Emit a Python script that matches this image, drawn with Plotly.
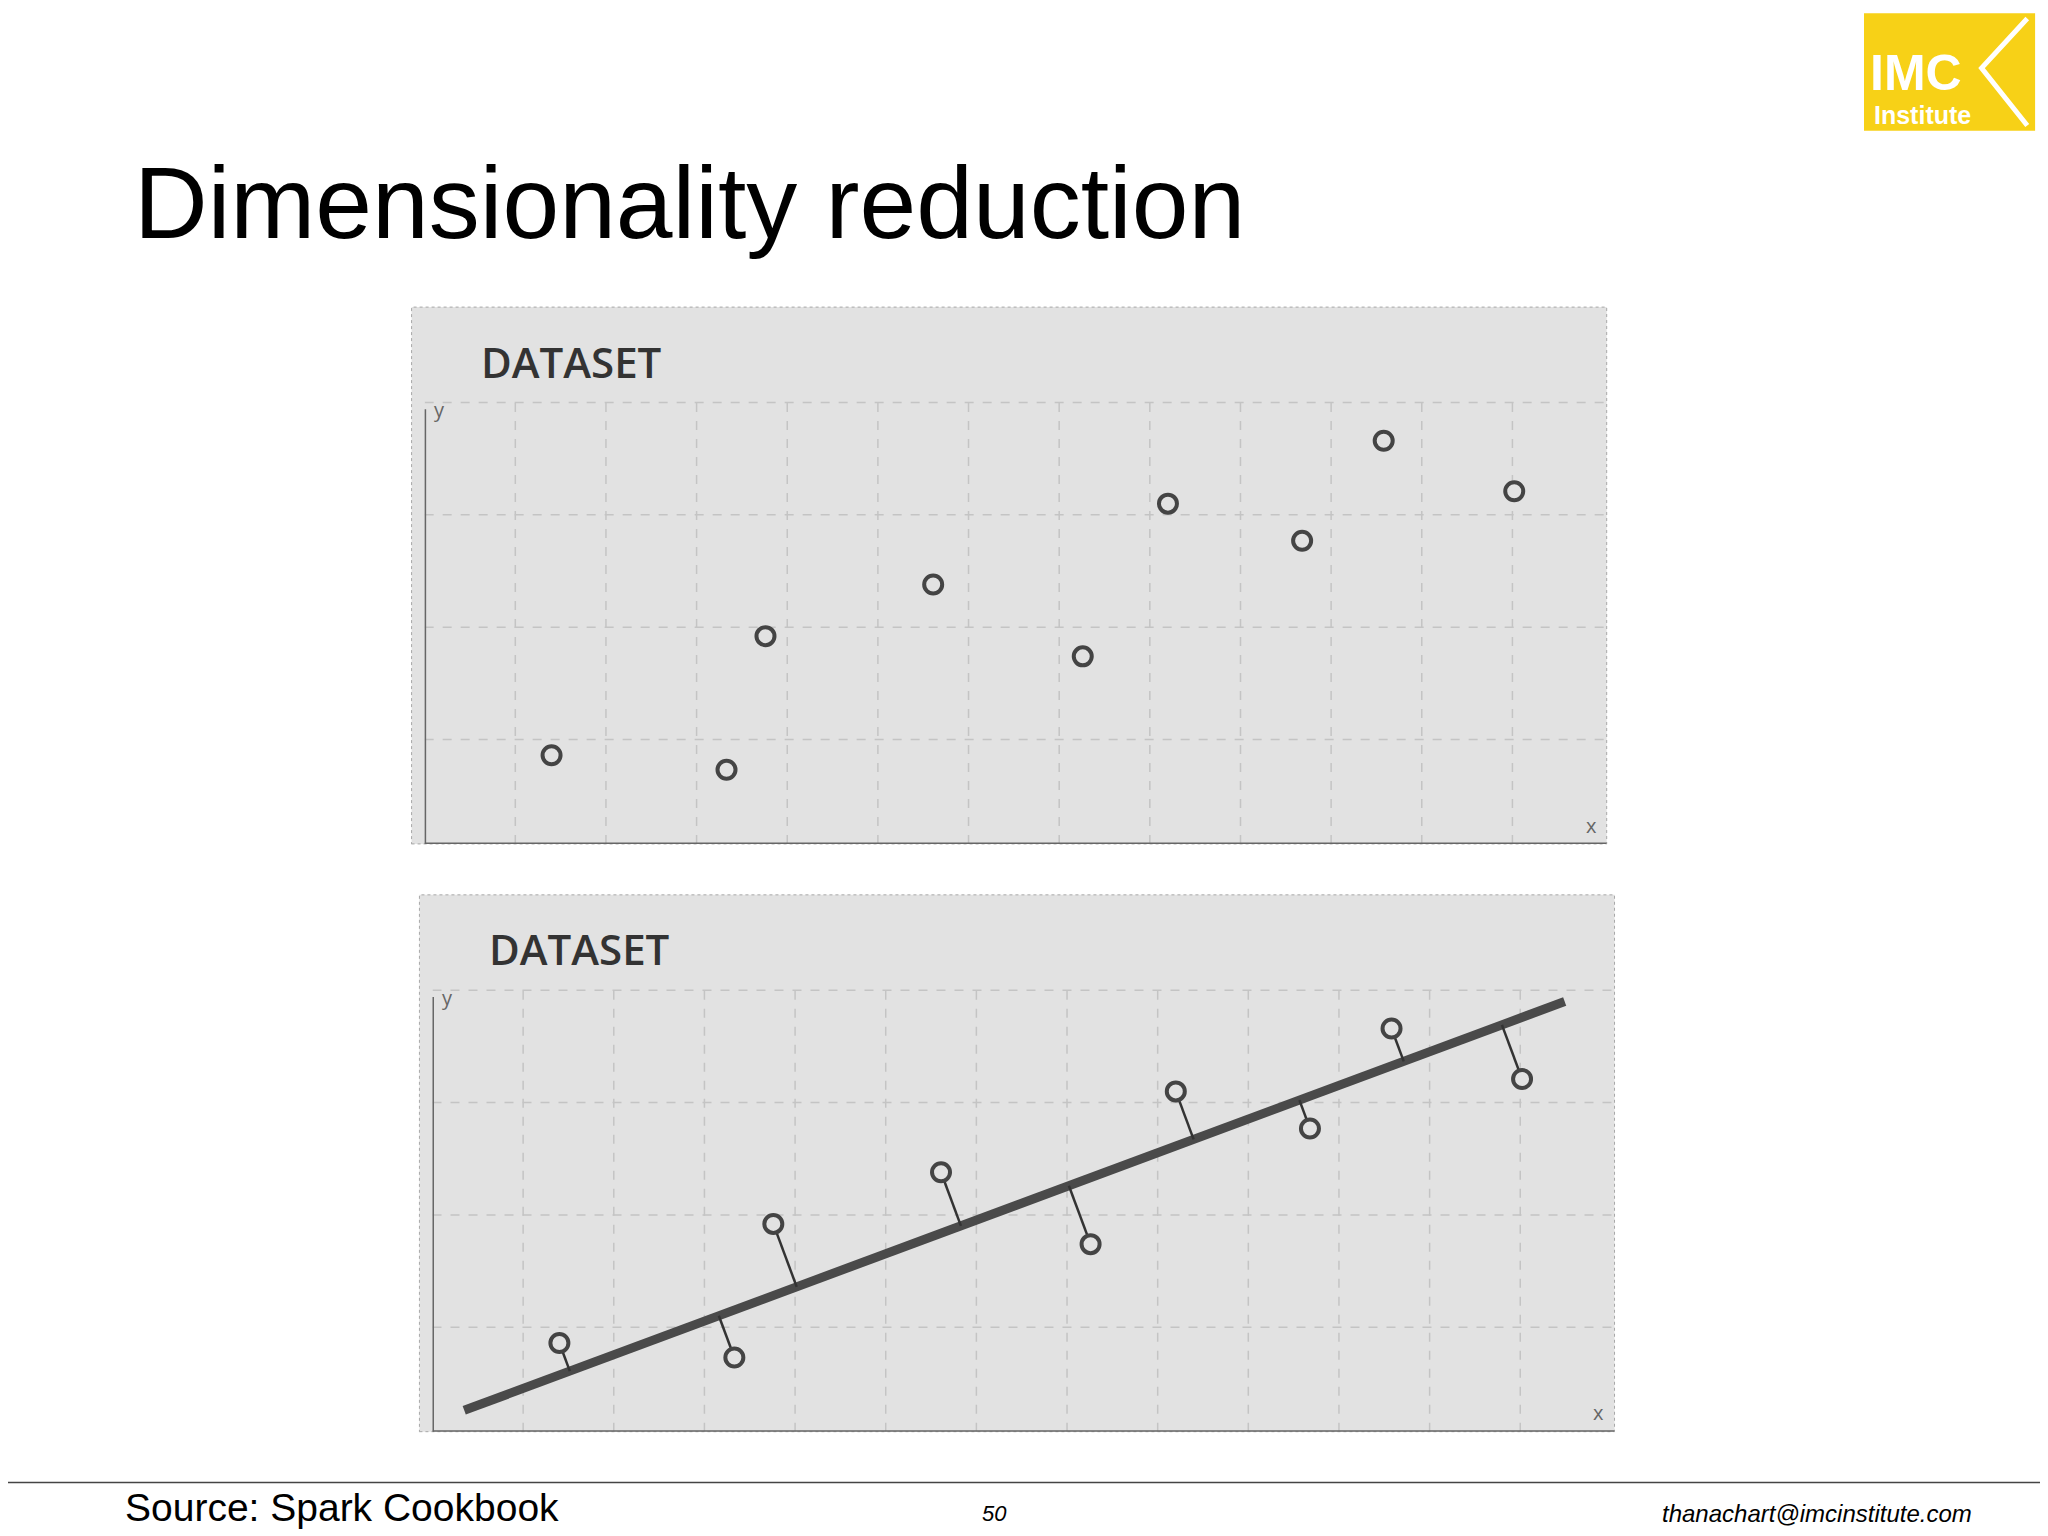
import numpy as np
import plotly.graph_objects as go

# data points in grid units
px = [1.40, 3.33, 3.76, 5.61, 7.26, 8.20, 9.68, 10.58, 12.02]
py = [0.79, 0.66, 1.85, 2.31, 1.67, 3.03, 2.70, 3.59, 3.14]
line_x = [0.35, 12.49]
line_y = [0.19, 3.83]
grid_x = list(range(1, 13))
grid_y = [0.93, 1.93, 2.93, 3.93]

W, H = 2048, 1536
XR = [0, 13.04]
YR = [0, 4.78]
sx, sy = 69.4, 86.0  # pixel scale per unit (reference px)
OFF = 6  # page margin compensation (reference px)


def fx(v):
    return (v - OFF) / 1568


def fy(v):
    return 1 - (v - OFF) / 1176


fig = go.Figure()
panels = [("x", "y", [325, 1230], [235, 646]), ("x2", "y2", [331, 1236], [685, 1096])]
axes = {}
shapes = []
ann = []
for i, (xa, ya, (x0, x1), (y0, y1)) in enumerate(panels):
    xd = [fx(x0), fx(x1)]
    yd = [fy(y1), fy(y0)]
    kx = "xaxis" if i == 0 else "xaxis2"
    ky = "yaxis" if i == 0 else "yaxis2"
    axes[kx] = dict(domain=xd, range=XR, visible=False, anchor=ya)
    axes[ky] = dict(domain=yd, range=YR, visible=False, anchor=xa)
    shapes.append(dict(type="rect", xref="paper", yref="paper", layer="below",
                       x0=fx(x0 - 10), x1=xd[1], y0=yd[0], y1=yd[1],
                       fillcolor="#e2e2e2", line=dict(color="#a8a8a8", width=1, dash="dot")))
    for g in grid_x:
        shapes.append(dict(type="line", xref=xa, yref=ya, layer="below", x0=g, x1=g, y0=0, y1=grid_y[-1],
                           line=dict(color="#c4c4c4", width=1.5, dash="dash")))
    for g in grid_y:
        shapes.append(dict(type="line", xref=xa, yref=ya, layer="below", x0=0, x1=XR[1], y0=g, y1=g,
                           line=dict(color="#c4c4c4", width=1.5, dash="dash")))
    shapes.append(dict(type="line", xref=xa, yref=ya, x0=0, x1=0, y0=0, y1=3.87,
                       line=dict(color="#666666", width=3)))
    shapes.append(dict(type="line", xref=xa, yref=ya, x0=0, x1=XR[1], y0=0, y1=0,
                       line=dict(color="#666666", width=3)))
    ann.append(dict(xref=xa, yref=ya, x=0.08, y=3.87, text="y", showarrow=False,
                    xanchor="left", yanchor="middle", font=dict(size=20, color="#666", family="Open Sans")))
    ann.append(dict(xref=xa, yref=ya, x=12.95, y=0.03, text="x", showarrow=False,
                    xanchor="right", yanchor="bottom", font=dict(size=20, color="#666", family="Open Sans")))
    ann.append(dict(xref=xa, yref=ya, x=0.6, y=4.3, text="DATASET", showarrow=False,
                    xanchor="left", yanchor="middle",
                    font=dict(size=42, color="#333", family="Open Sans", weight=600)))

fig.add_trace(go.Scatter(x=line_x, y=line_y, xaxis="x2", yaxis="y2", mode="lines",
                         line=dict(color="#4a4a4a", width=9), hoverinfo="skip"))
# perpendicular feet in pixel space
p0 = np.array([line_x[0] * sx, line_y[0] * sy])
d = np.array([(line_x[1] - line_x[0]) * sx, (line_y[1] - line_y[0]) * sy])
d = d / np.linalg.norm(d)
for a, b in zip(px, py):
    p = np.array([a * sx, b * sy])
    f = p0 + np.dot(p - p0, d) * d
    fig.add_trace(go.Scatter(x=[a, f[0] / sx], y=[b, f[1] / sy], xaxis="x2", yaxis="y2",
                             mode="lines", line=dict(color="#333", width=2.5), hoverinfo="skip"))

for xa, ya in [("x", "y"), ("x2", "y2")]:
    fig.add_trace(go.Scatter(x=px, y=py, xaxis=xa, yaxis=ya, mode="markers",
                             marker=dict(symbol="circle", size=18, color="#e2e2e2",
                                         line=dict(color="#444", width=4))))

shapes.append(dict(type="line", xref="paper", yref="paper", x0=-0.01, x1=1, y0=fy(1135), y1=fy(1135),
                   line=dict(color="#444", width=1.5)))
# logo
shapes.append(dict(type="rect", xref="paper", yref="paper", x0=fx(1427), x1=fx(1558),
                   y0=fy(100), y1=fy(10), fillcolor="#f7d117", line=dict(width=0)))
shapes.append(dict(type="path", xref="paper", yref="paper",
                   path="M %f %f L %f %f L %f %f" % (fx(1552), fy(14), fx(1517), fy(52), fx(1552), fy(96)),
                   line=dict(color="white", width=5)))
ann += [
    dict(xref="paper", yref="paper", x=fx(1430), y=fy(56), text="<b>IMC</b>", showarrow=False,
         xanchor="left", yanchor="middle", font=dict(size=50, color="white", family="Liberation Sans")),
    dict(xref="paper", yref="paper", x=fx(1433), y=fy(88), text="<b>Institute</b>", showarrow=False,
         xanchor="left", yanchor="middle", font=dict(size=25, color="white", family="Liberation Sans")),
    dict(xref="paper", yref="paper", x=fx(101), y=fy(155), text="Dimensionality reduction", showarrow=False,
         xanchor="left", yanchor="middle", font=dict(size=102, color="black", family="Liberation Sans")),
    dict(xref="paper", yref="paper", x=fx(94), y=fy(1154), text="Source: Spark Cookbook", showarrow=False,
         xanchor="left", yanchor="middle", font=dict(size=39, color="black", family="Liberation Sans")),
    dict(xref="paper", yref="paper", x=fx(761), y=fy(1159), text="<i>50</i>", showarrow=False,
         xanchor="center", yanchor="middle", font=dict(size=22, color="black", family="Liberation Sans")),
    dict(xref="paper", yref="paper", x=fx(1511), y=fy(1159), text="<i>thanachart@imcinstitute.com</i>",
         showarrow=False, xanchor="right", yanchor="middle", font=dict(size=24, color="black", family="Liberation Sans")),
]

fig.update_layout(width=W, height=H, margin=dict(l=0, r=0, t=0, b=0), showlegend=False,
                  paper_bgcolor="white", plot_bgcolor="rgba(0,0,0,0)", shapes=shapes, annotations=ann, **axes)
fig.write_html("out.html")
